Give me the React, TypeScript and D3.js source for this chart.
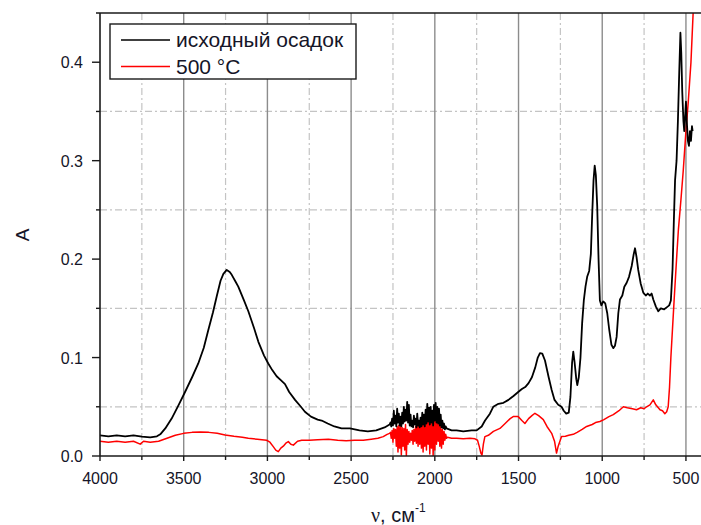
import React, {useEffect, useRef} from "react";
import * as d3 from "d3";

type Pt = [number, number];

// исходный осадок (black) — wavenumber, absorbance
const precipitateMain: Pt[] = [
    [4000, 0.021], [3950, 0.020], [3900, 0.021], [3850, 0.020], [3800, 0.021], [3750, 0.0196], [3700, 0.019],
    [3660, 0.020], [3640, 0.022], [3610, 0.028], [3572, 0.038], [3530, 0.052], [3492, 0.065], [3450, 0.080],
    [3413, 0.094], [3380, 0.110], [3353, 0.128], [3325, 0.146], [3303, 0.162], [3280, 0.178], [3263, 0.185],
    [3243, 0.189], [3225, 0.187], [3213, 0.184], [3190, 0.177], [3174, 0.172], [3140, 0.158], [3114, 0.147],
    [3080, 0.130], [3054, 0.116], [3020, 0.102], [2995, 0.094], [2970, 0.087], [2945, 0.081], [2920, 0.077],
    [2895, 0.073], [2870, 0.065], [2835, 0.057], [2800, 0.050], [2776, 0.045], [2740, 0.040], [2700, 0.037],
    [2676, 0.036], [2640, 0.033], [2600, 0.030], [2557, 0.028], [2507, 0.028], [2450, 0.026], [2400, 0.025],
    [2350, 0.026], [2300, 0.029], [2270, 0.032]
];
const precipitateNoise: Pt[] = [
    [2265, 0.034], [2260, 0.030], [2255, 0.038], [2250, 0.031], [2245, 0.046], [2240, 0.033], [2235, 0.041],
    [2230, 0.030], [2225, 0.048], [2220, 0.034], [2215, 0.043], [2210, 0.031], [2205, 0.040], [2200, 0.030],
    [2195, 0.044], [2190, 0.033], [2185, 0.050], [2180, 0.035], [2175, 0.047], [2170, 0.036], [2165, 0.055],
    [2160, 0.034], [2155, 0.052], [2150, 0.031], [2145, 0.042], [2140, 0.030], [2135, 0.036], [2130, 0.029],
    [2125, 0.041], [2120, 0.032], [2115, 0.038], [2110, 0.029], [2105, 0.043], [2100, 0.031], [2095, 0.036],
    [2090, 0.029], [2085, 0.039], [2080, 0.030], [2075, 0.044], [2070, 0.032], [2065, 0.042], [2060, 0.030],
    [2055, 0.047], [2050, 0.033], [2045, 0.053], [2040, 0.035], [2035, 0.049], [2030, 0.032], [2025, 0.050],
    [2020, 0.034], [2015, 0.046], [2010, 0.031], [2005, 0.052], [2000, 0.036], [1995, 0.054], [1990, 0.034],
    [1985, 0.050], [1980, 0.033], [1975, 0.048], [1970, 0.031], [1965, 0.042], [1960, 0.029], [1955, 0.036],
    [1950, 0.028], [1945, 0.033], [1940, 0.027], [1935, 0.030]
];
const precipitateFinger: Pt[] = [
    [1930, 0.028], [1900, 0.026], [1870, 0.026], [1830, 0.025], [1780, 0.026], [1750, 0.026], [1720, 0.030],
    [1700, 0.036], [1671, 0.043], [1651, 0.050], [1620, 0.053], [1590, 0.054], [1560, 0.057], [1530, 0.061],
    [1502, 0.065], [1480, 0.068], [1460, 0.070], [1440, 0.074], [1420, 0.080], [1400, 0.090], [1385, 0.100],
    [1372, 0.1045], [1358, 0.104], [1342, 0.097], [1320, 0.080], [1302, 0.067], [1285, 0.057], [1263, 0.052],
    [1243, 0.050], [1230, 0.046], [1215, 0.043], [1200, 0.044], [1190, 0.060], [1180, 0.095], [1173, 0.106],
    [1165, 0.095], [1155, 0.078], [1149, 0.072], [1140, 0.080], [1130, 0.100], [1120, 0.135], [1110, 0.158],
    [1100, 0.172], [1090, 0.182], [1078, 0.188], [1068, 0.205], [1060, 0.245], [1052, 0.280], [1045, 0.295],
    [1038, 0.285], [1030, 0.254], [1022, 0.200], [1014, 0.158], [1005, 0.153], [994, 0.157], [982, 0.155],
    [970, 0.145], [958, 0.128], [945, 0.113], [934, 0.1096], [924, 0.112], [914, 0.121], [904, 0.145],
    [894, 0.159], [880, 0.163], [868, 0.172], [854, 0.176], [840, 0.182], [824, 0.193], [812, 0.205],
    [804, 0.211], [795, 0.202], [785, 0.189], [770, 0.175], [755, 0.166], [740, 0.163], [728, 0.165],
    [715, 0.163], [705, 0.165], [695, 0.159], [680, 0.152], [665, 0.147], [650, 0.150], [630, 0.149],
    [615, 0.151], [600, 0.153], [590, 0.158], [580, 0.190], [572, 0.240], [565, 0.280], [556, 0.300],
    [548, 0.340], [540, 0.390], [533, 0.430], [528, 0.410], [522, 0.370], [515, 0.340], [510, 0.330],
    [505, 0.345], [500, 0.360], [495, 0.340], [488, 0.320], [482, 0.315], [476, 0.330], [470, 0.320],
    [464, 0.335], [460, 0.330]
];

// 500 °C (red)
const heatedMain: Pt[] = [
    [4000, 0.015], [3950, 0.014], [3900, 0.015], [3850, 0.014], [3800, 0.015], [3760, 0.012], [3740, 0.015],
    [3700, 0.014], [3650, 0.015], [3600, 0.018], [3550, 0.021], [3500, 0.023], [3450, 0.024], [3400, 0.0245],
    [3350, 0.024], [3300, 0.023], [3253, 0.0214], [3200, 0.020], [3150, 0.019], [3114, 0.018], [3060, 0.017],
    [3005, 0.016], [2985, 0.014], [2965, 0.0095], [2950, 0.006], [2935, 0.0044], [2920, 0.008], [2905, 0.010],
    [2890, 0.013], [2875, 0.0146], [2860, 0.012], [2845, 0.011], [2820, 0.015], [2795, 0.016], [2750, 0.016],
    [2700, 0.0165], [2636, 0.017], [2580, 0.016], [2530, 0.0155], [2480, 0.016], [2427, 0.016], [2380, 0.017],
    [2340, 0.018], [2308, 0.0197], [2285, 0.022], [2270, 0.023]
];
const heatedNoise: Pt[] = [
    [2265, 0.024], [2260, 0.018], [2255, 0.026], [2250, 0.014], [2245, 0.028], [2240, 0.018], [2235, 0.027],
    [2230, 0.010], [2225, 0.030], [2220, 0.004], [2215, 0.031], [2210, 0.008], [2205, 0.030], [2200, 0.001],
    [2195, 0.029], [2190, 0.010], [2185, 0.028], [2180, 0.006], [2175, 0.032], [2170, 0.000], [2165, 0.027],
    [2160, 0.012], [2155, 0.025], [2150, 0.014], [2145, 0.023], [2140, 0.016], [2135, 0.026], [2130, 0.012],
    [2125, 0.027], [2120, 0.015], [2115, 0.030], [2110, 0.013], [2105, 0.032], [2100, 0.010], [2095, 0.034],
    [2090, 0.012], [2085, 0.033], [2080, 0.008], [2075, 0.036], [2070, 0.004], [2065, 0.038], [2060, 0.010],
    [2055, 0.040], [2050, 0.006], [2045, 0.044], [2040, 0.012], [2035, 0.042], [2030, 0.002], [2025, 0.040],
    [2020, 0.008], [2015, 0.036], [2010, 0.000], [2005, 0.038], [2000, 0.006], [1995, 0.042], [1990, 0.012],
    [1985, 0.040], [1980, 0.015], [1975, 0.035], [1970, 0.010], [1965, 0.030], [1960, 0.008], [1955, 0.027],
    [1950, 0.012], [1945, 0.025], [1940, 0.016], [1935, 0.022], [1930, 0.018]
];
const heatedFinger: Pt[] = [
    [1925, 0.019], [1900, 0.018], [1870, 0.018], [1830, 0.0175], [1790, 0.018], [1760, 0.0175], [1745, 0.016],
    [1735, 0.010], [1725, 0.003], [1718, 0.001], [1710, 0.012], [1701, 0.0197], [1680, 0.021], [1650, 0.025],
    [1611, 0.028], [1580, 0.033], [1550, 0.038], [1532, 0.040], [1502, 0.040], [1480, 0.036], [1462, 0.033],
    [1440, 0.038], [1420, 0.041], [1402, 0.0434], [1380, 0.041], [1352, 0.037], [1330, 0.030], [1302, 0.023],
    [1285, 0.015], [1273, 0.003], [1263, 0.010], [1243, 0.0197], [1220, 0.020], [1200, 0.021], [1173, 0.022],
    [1150, 0.024], [1120, 0.027], [1093, 0.030], [1060, 0.032], [1040, 0.034], [1014, 0.035], [990, 0.037],
    [960, 0.040], [934, 0.042], [900, 0.046], [874, 0.050], [850, 0.049], [820, 0.048], [795, 0.047],
    [770, 0.049], [750, 0.048], [735, 0.050], [715, 0.052], [695, 0.057], [680, 0.052], [665, 0.049],
    [655, 0.047], [640, 0.046], [626, 0.043], [615, 0.045], [606, 0.050], [598, 0.070], [590, 0.100],
    [580, 0.130], [570, 0.160], [556, 0.200], [545, 0.230], [530, 0.260], [516, 0.290], [500, 0.330],
    [486, 0.360], [470, 0.400], [457, 0.450], [420, 0.530]
];

const xMajor = [4000, 3500, 3000, 2500, 2000, 1500, 1000, 500];
const xMinor = [3750, 3250, 2750, 2250, 1750, 1250, 750];
const yMajor = [0, 0.1, 0.2, 0.3, 0.4];
const yMinor = [0.05, 0.15, 0.25, 0.35];
const legendItems = [
    {label: "исходный осадок", color: "#000000"},
    {label: "500 °C", color: "#ff0000"}
];

const App: React.FC = () => {
    const svgRef = useRef<SVGSVGElement>(null);
    const width = 701;
    const height = 525;
    const left = 100, right = 700, top = 13, bottom = 456;

    useEffect(() => {
        const svg = d3.select(svgRef.current);
        svg.selectAll("*").remove();

        const x = d3.scaleLinear().domain([4000, 416]).range([left, right]);
        const y = d3.scaleLinear().domain([0, 0.45]).range([bottom, top]);
        const font = "'Liberation Sans', Arial, sans-serif";

        svg.append("defs").append("clipPath").attr("id", "plot-clip")
            .append("rect")
            .attr("x", left).attr("y", top)
            .attr("width", right - left + 1).attr("height", bottom - top);

        // grid
        const grid = svg.append("g");
        grid.selectAll(".ymin").data(yMinor).join("line")
            .attr("x1", left).attr("x2", right + 1)
            .attr("y1", d => y(d)).attr("y2", d => y(d))
            .attr("stroke", "#c4c4c4").attr("stroke-width", 1.2)
            .attr("stroke-dasharray", "7,3,2,3");
        grid.selectAll(".xmin").data(xMinor).join("line")
            .attr("x1", d => x(d)).attr("x2", d => x(d))
            .attr("y1", top).attr("y2", bottom)
            .attr("stroke", "#c4c4c4").attr("stroke-width", 1.2)
            .attr("stroke-dasharray", "7,3,2,3");
        grid.selectAll(".xmaj").data(xMajor.filter(d => d !== 4000)).join("line")
            .attr("x1", d => x(d)).attr("x2", d => x(d))
            .attr("y1", top).attr("y2", bottom)
            .attr("stroke", "#8c8c8c").attr("stroke-width", 1.4);

        // curves
        const line = d3.line<Pt>().x(d => x(d[0])).y(d => y(d[1]));
        const plot = svg.append("g").attr("clip-path", "url(#plot-clip)");
        plot.append("path")
            .datum([...heatedMain, ...heatedNoise, ...heatedFinger])
            .attr("fill", "none").attr("stroke", "#ff0000").attr("stroke-width", 1.5)
            .attr("stroke-linejoin", "round")
            .attr("d", line);
        plot.append("path")
            .datum([...precipitateMain, ...precipitateNoise, ...precipitateFinger])
            .attr("fill", "none").attr("stroke", "#000000").attr("stroke-width", 1.8)
            .attr("stroke-linejoin", "round")
            .attr("d", line);

        // axes
        const axisColor = "#1a1a1a";
        svg.append("line").attr("x1", left - 4).attr("x2", width).attr("y1", top).attr("y2", top)
            .attr("stroke", axisColor).attr("stroke-width", 1.6);
        svg.append("line").attr("x1", left).attr("x2", left).attr("y1", top).attr("y2", bottom)
            .attr("stroke", axisColor).attr("stroke-width", 1.6);
        svg.append("line").attr("x1", left).attr("x2", width).attr("y1", bottom).attr("y2", bottom)
            .attr("stroke", axisColor).attr("stroke-width", 1.6);

        svg.selectAll(".ytick").data(yMajor).join("line")
            .attr("x1", left - 8).attr("x2", left)
            .attr("y1", d => y(d)).attr("y2", d => y(d))
            .attr("stroke", axisColor).attr("stroke-width", 1.4);
        svg.selectAll(".ytickm").data(yMinor).join("line")
            .attr("x1", left - 4).attr("x2", left)
            .attr("y1", d => y(d)).attr("y2", d => y(d))
            .attr("stroke", axisColor).attr("stroke-width", 1.4);
        svg.selectAll(".xtick").data(xMajor).join("line")
            .attr("x1", d => x(d)).attr("x2", d => x(d))
            .attr("y1", bottom).attr("y2", bottom + 5)
            .attr("stroke", axisColor).attr("stroke-width", 1.4);
        svg.selectAll(".xtickm").data(xMinor).join("line")
            .attr("x1", d => x(d)).attr("x2", d => x(d))
            .attr("y1", bottom).attr("y2", bottom + 4)
            .attr("stroke", axisColor).attr("stroke-width", 1.4);

        const labelColor = "#151528";
        svg.selectAll(".ylab").data(yMajor).join("text")
            .attr("x", left - 17).attr("y", d => y(d) + 6)
            .attr("text-anchor", "end")
            .attr("font-family", font).attr("font-size", 16).attr("fill", labelColor)
            .text(d => d3.format(".1f")(d));
        svg.selectAll(".xlab").data(xMajor).join("text")
            .attr("x", d => x(d)).attr("y", 484)
            .attr("text-anchor", "middle")
            .attr("font-family", font).attr("font-size", 16).attr("fill", labelColor)
            .text(d => String(d));

        svg.append("text")
            .attr("transform", "translate(29,235) rotate(-90)")
            .attr("text-anchor", "middle")
            .attr("font-family", font).attr("font-size", 19).attr("fill", labelColor)
            .text("A");

        const xt = svg.append("text")
            .attr("x", 371).attr("y", 522)
            .attr("font-family", font).attr("font-size", 20).attr("fill", labelColor);
        xt.append("tspan").attr("font-family", "'Liberation Serif', serif").text("ν");
        xt.append("tspan").text(", см");
        xt.append("tspan").attr("font-size", 12).attr("dy", -10).text("-1");

        // legend
        const lg = svg.append("g");
        lg.append("rect")
            .attr("x", 110).attr("y", 24).attr("width", 246).attr("height", 55)
            .attr("fill", "#fff").attr("stroke", axisColor).attr("stroke-width", 1.4);
        const items = lg.selectAll(".li").data(legendItems).join("g")
            .attr("transform", (_, i) => `translate(0,${40 + i * 26.5})`);
        items.append("line")
            .attr("x1", 121).attr("x2", 170).attr("y1", 0).attr("y2", 0)
            .attr("stroke", d => d.color).attr("stroke-width", 1.4);
        items.append("text")
            .attr("x", 176).attr("y", 7)
            .attr("font-family", font).attr("font-size", 21).attr("fill", labelColor)
            .text(d => d.label);
    }, []);

    return <svg ref={svgRef} width={width} height={height}
                style={{position: "absolute", left: 0, top: 0, background: "#fff"}}></svg>;
};

export default App;
